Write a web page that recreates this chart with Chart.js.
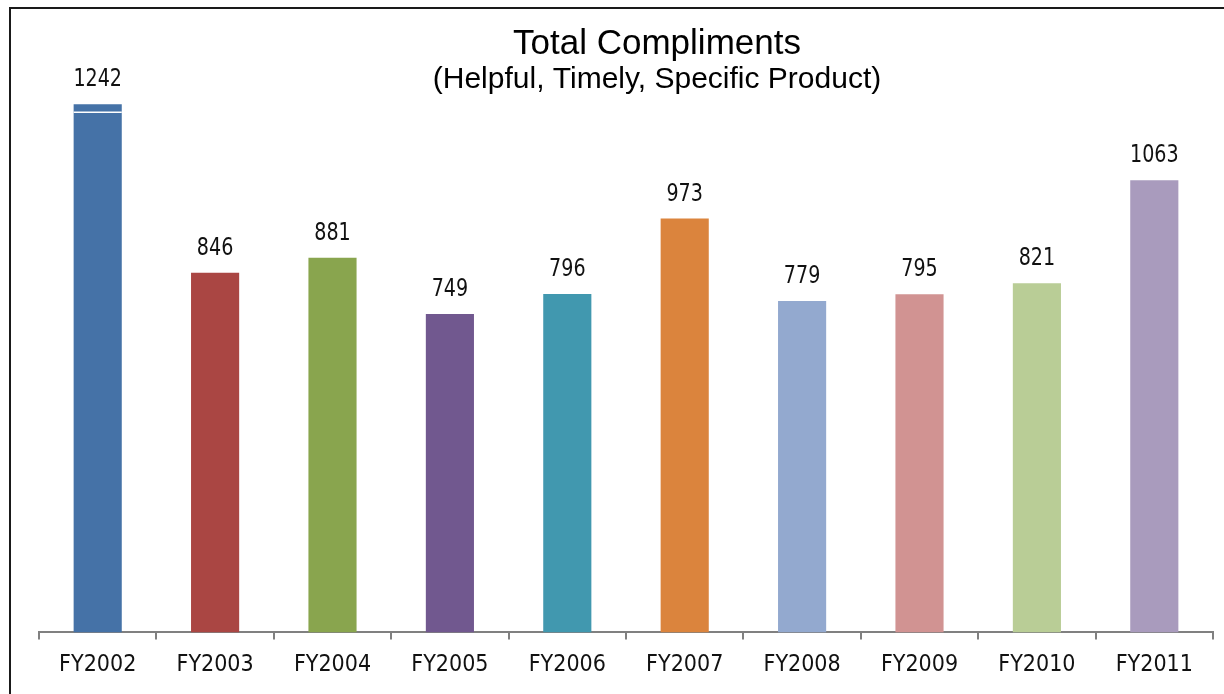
<!DOCTYPE html>
<html>
<head>
<meta charset="utf-8">
<script src="https://cdn.jsdelivr.net/npm/chart.js@4.4.0/dist/chart.umd.min.js"></script>
<style>
  html, body { margin: 0; padding: 0; background: #fff; overflow: hidden; }
  #frame { position: absolute; left: 9px; top: 7px; width: 1400px; height: 900px; border: 2px solid #1a1a1a; }
  #wrap { position: absolute; left: 0; top: 0; width: 1224px; height: 694px; }
</style>
</head>
<body>
<div id="frame"></div>
<div id="wrap"><canvas id="chart" width="1224" height="694"></canvas></div>
<script>
// Fiscal years and compliment totals
const years = ['FY2002', 'FY2003', 'FY2004', 'FY2005', 'FY2006', 'FY2007', 'FY2008', 'FY2009', 'FY2010', 'FY2011'];
const compliments = [1242, 846, 881, 749, 796, 973, 779, 795, 821, 1063];
const barColors = ['#4572A7', '#AA4643', '#89A54E', '#71588F', '#4198AF', '#DB843D', '#93A9CF', '#D19392', '#B9CD96', '#A99BBD'];
const titleText = 'Total Compliments';
const subtitleText = '(Helpful, Timely, Specific Product)';
const breakValue = 1223; // white line across the first bar

const narrow = "'Liberation Sans Narrow', 'DejaVu Sans Condensed', sans-serif";
const sans = "'Liberation Sans', Arial, sans-serif";

// titles (centred a bit right of the canvas, like the original)
const titles = {
  id: 'titles',
  afterDraw(chart) {
    const ctx = chart.ctx;
    ctx.save();
    ctx.fillStyle = '#000';
    ctx.textAlign = 'center';
    ctx.textBaseline = 'alphabetic';
    ctx.font = '35px ' + sans;
    ctx.fillText(titleText, 657, 54);
    ctx.font = '30px ' + sans;
    ctx.fillText(subtitleText, 657, 88);
    ctx.restore();
  }
};

// value labels above each bar + the white line on the first bar
const barLabels = {
  id: 'barLabels',
  afterDatasetsDraw(chart) {
    const ctx = chart.ctx;
    const meta = chart.getDatasetMeta(0);
    ctx.save();
    ctx.font = '25px ' + narrow;
    ctx.fillStyle = '#111';
    ctx.textAlign = 'center';
    ctx.textBaseline = 'alphabetic';
    meta.data.forEach((bar, i) => {
      ctx.save();
      ctx.translate(bar.x, bar.y - 18);
      ctx.scale(0.85, 1);
      ctx.fillText(compliments[i], 0, 0);
      ctx.restore();
    });
    const first = meta.data[0];
    const y = chart.scales.y.getPixelForValue(breakValue);
    ctx.strokeStyle = '#fff';
    ctx.lineWidth = 1.5;
    ctx.beginPath();
    ctx.moveTo(first.x - first.width / 2, y);
    ctx.lineTo(first.x + first.width / 2, y);
    ctx.stroke();
    ctx.restore();
  }
};

new Chart(document.getElementById('chart'), {
  type: 'bar',
  data: {
    labels: years,
    datasets: [{
      data: compliments,
      backgroundColor: barColors,
      borderWidth: 0,
      categoryPercentage: 1,
      barPercentage: 0.41
    }]
  },
  options: {
    responsive: false,
    animation: false,
    layout: { padding: { left: 39, right: 11, top: 97, bottom: 3 } },
    plugins: {
      legend: { display: false },
      tooltip: { enabled: false },
      title: { display: false }
    },
    scales: {
      x: {
        grid: { drawOnChartArea: false, drawTicks: true, tickLength: 7, color: '#808080', lineWidth: 2 },
        border: { color: '#808080', width: 2 },
        ticks: { color: '#111', font: { family: narrow, size: 23 }, padding: 12 }
      },
      y: {
        display: false,
        min: 0,
        max: 1259
      }
    }
  },
  plugins: [barLabels, titles]
});
</script>
</body>
</html>
